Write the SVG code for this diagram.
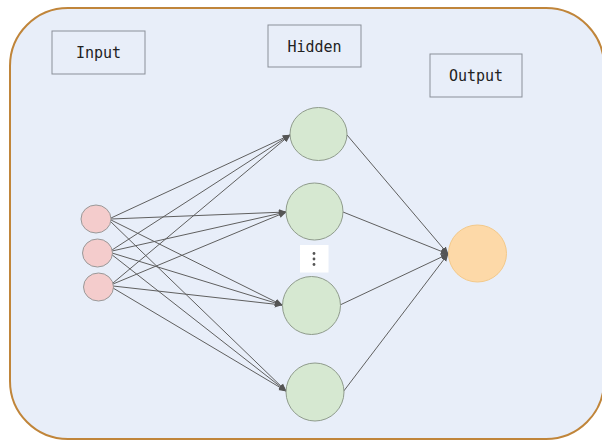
<svg xmlns="http://www.w3.org/2000/svg" width="602" height="441" viewBox="0 0 602 441">
<defs>
<style>
.box{fill:none;stroke:#8a8f99;stroke-width:1}
.lbl{font-family:"DejaVu Sans Mono","Liberation Mono",monospace;font-size:15px;fill:#222;text-anchor:middle}
.in{fill:#f4cccc;stroke:#999;stroke-width:1}
.hid{fill:#d6e8d1;stroke:#8f9b8c;stroke-width:1}
.out{fill:#fdd9a8;stroke:#f3c98a;stroke-width:1}
.edge{stroke:#5f5f5f;stroke-width:1;fill:none;marker-end:url(#arr)}
</style>
<marker id="arr" viewBox="0 0 10 10" refX="9" refY="5" markerWidth="8" markerHeight="8" markerUnits="userSpaceOnUse" orient="auto">
<path d="M0,1 L10,5 L0,9 Z" fill="#555"/>
</marker>
</defs>
<rect id="frame" x="10" y="8" width="594" height="431" rx="58" ry="58" fill="#e8eef9" stroke="#c0853a" stroke-width="2"/>
<g id="label-input"><rect class="box" x="52" y="31" width="93" height="43"/><text class="lbl" x="98.5" y="58">Input</text></g>
<g id="label-hidden"><rect class="box" x="268" y="25" width="93" height="42"/><text class="lbl" x="314.5" y="52">Hidden</text></g>
<g id="label-output"><rect class="box" x="430" y="54" width="92" height="43"/><text class="lbl" x="476" y="81">Output</text></g>
<g id="connectors">
<line class="edge" x1="111" y1="218" x2="290" y2="135"/>
<line class="edge" x1="111" y1="219" x2="286" y2="212"/>
<line class="edge" x1="111" y1="220" x2="282" y2="305"/>
<line class="edge" x1="110" y1="221" x2="286" y2="391"/>
<line class="edge" x1="112" y1="250" x2="290" y2="135"/>
<line class="edge" x1="112" y1="251" x2="286" y2="212"/>
<line class="edge" x1="112" y1="253" x2="282" y2="305"/>
<line class="edge" x1="111" y1="254" x2="286" y2="391"/>
<line class="edge" x1="113" y1="283" x2="290" y2="135"/>
<line class="edge" x1="113" y1="284" x2="286" y2="212"/>
<line class="edge" x1="113" y1="286" x2="282" y2="305"/>
<line class="edge" x1="113" y1="288" x2="286" y2="391"/>
<line class="edge" x1="347" y1="135" x2="448" y2="254"/>
<line class="edge" x1="343" y1="212" x2="448" y2="254"/>
<line class="edge" x1="340" y1="305" x2="448" y2="254"/>
<line class="edge" x1="343" y1="392" x2="448" y2="254"/>
</g>
<g id="in1"><ellipse class="in" cx="96" cy="219" rx="15" ry="14"/></g>
<g id="in2"><ellipse class="in" cx="97.5" cy="253" rx="15" ry="14"/></g>
<g id="in3"><ellipse class="in" cx="98.5" cy="287" rx="15" ry="14"/></g>
<g id="h1"><ellipse class="hid" cx="318.5" cy="134" rx="28.5" ry="26.5"/></g>
<g id="h2"><ellipse class="hid" cx="314.5" cy="211.5" rx="28.5" ry="28.5"/></g>
<g id="h3"><ellipse class="hid" cx="311.5" cy="305.5" rx="29" ry="29"/></g>
<g id="h4"><ellipse class="hid" cx="315" cy="392" rx="29" ry="29"/></g>
<g id="dots"><rect x="300" y="245" width="28.5" height="27.5" fill="#ffffff"/><circle cx="314" cy="253.5" r="1.4" fill="#555"/><circle cx="314" cy="259" r="1.4" fill="#555"/><circle cx="314" cy="264.5" r="1.4" fill="#555"/></g>
<g id="out1"><ellipse class="out" cx="477.5" cy="253.5" rx="29" ry="28.5"/></g>
</svg>
